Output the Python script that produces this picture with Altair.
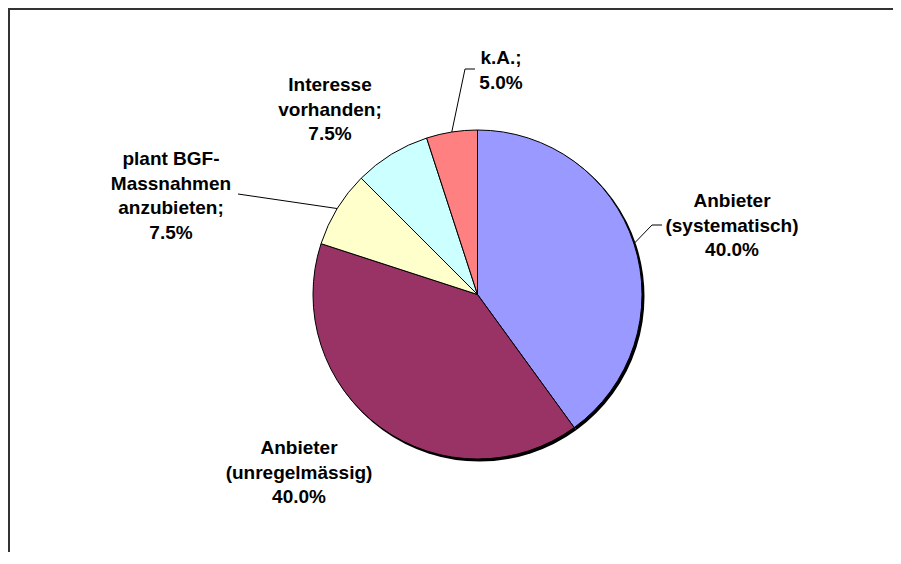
import altair as alt
import numpy as np
import pandas as pd

# ---- data ----
categories = ["Anbieter (systematisch)", "Anbieter (unregelmässig)",
              "plant BGF-Massnahmen anzubieten", "Interesse vorhanden", "k.A."]
values = [40.0, 40.0, 7.5, 7.5, 5.0]
label_names = [["Anbieter", "(systematisch)"],
               ["Anbieter", "(unregelmässig)"],
               ["plant BGF-", "Massnahmen", "anzubieten;"],
               ["Interesse", "vorhanden;"],
               ["k.A.;"]]
colors = ["#9999FF", "#993366", "#FFFFCC", "#CCFFFF", "#FF8080"]

# ---- layout (pixels inside the chart) ----
W, H = 885, 544
CX, CY, R = 469.5, 286.5, 164.5
label_x = [724, 291, 163, 322, 493]
label_y = [199, 446, 157, 83, 56]
# leader line bend points for slices that have one (slice index -> points)
leader_bends = {0: [(644, 217), (654, 217)],
                2: [(230, 186)],
                4: [(457, 61), (467, 61)]}

FONT = "Liberation Sans"

labels = ["\n".join(n + [f"{v:.1f}%"]) for n, v in zip(label_names, values)]
df = pd.DataFrame({"category": categories, "value": values,
                   "idx": list(range(len(values))), "label": labels,
                   "lx": label_x, "ly": label_y})

# leader lines from slice edge (mid-angle) to bend points
cum = np.cumsum([0.0] + values)
mid = (cum[:-1] + cum[1:]) / 2 / cum[-1] * 2 * np.pi
rows = []
for i, pts in leader_bends.items():
    ex = CX + R * np.sin(mid[i])
    ey = CY - R * np.cos(mid[i])
    allp = [(ex, ey)] + pts
    for k, (px, py) in enumerate(allp):
        rows.append({"grp": i, "seq": k, "px": px, "py": py})
lead_df = pd.DataFrame(rows)

base = alt.Chart(df)

shadow = base.mark_arc(radius=R + 0.5, color="black").encode(
    theta=alt.Theta("value:Q", stack=True),
    order=alt.Order("idx:Q"),
    x=alt.value(CX + 2), y=alt.value(CY + 2),
)

pie = base.mark_arc(radius=R, stroke="black", strokeWidth=1).encode(
    theta=alt.Theta("value:Q", stack=True),
    color=alt.Color("category:N", scale=alt.Scale(domain=categories, range=colors), legend=None),
    order=alt.Order("idx:Q"),
    x=alt.value(CX), y=alt.value(CY),
)

leaders = alt.Chart(lead_df).mark_line(color="black", strokeWidth=1).encode(
    x=alt.X("px:Q", scale=None, axis=None),
    y=alt.Y("py:Q", scale=None, axis=None),
    detail="grp:N",
    order="seq:Q",
)

text = base.mark_text(font=FONT, fontWeight="bold", fontSize=19, lineHeight=24.5,
                      lineBreak="\n", align="center", baseline="alphabetic",
                      color="black").encode(
    x=alt.X("lx:Q", scale=None, axis=None),
    y=alt.Y("ly:Q", scale=None, axis=None),
    text="label:N",
)

frame_src = alt.Chart(pd.DataFrame({"a": [0]}))
frame_top = frame_src.mark_rule(color="#333333", strokeWidth=2).encode(
    x=alt.value(0), x2=alt.value(W), y=alt.value(1))
frame_left = frame_src.mark_rule(color="#333333", strokeWidth=2).encode(
    x=alt.value(1), y=alt.value(0), y2=alt.value(H))

chart = alt.layer(frame_top, frame_left, shadow, pie, leaders, text).properties(
    width=W, height=H, padding=0, autosize=alt.AutoSizeParams(type="none"),
    background="white",
).configure_view(strokeWidth=0)

chart.save("out.html", embed_options={"renderer": "svg", "actions": False})
